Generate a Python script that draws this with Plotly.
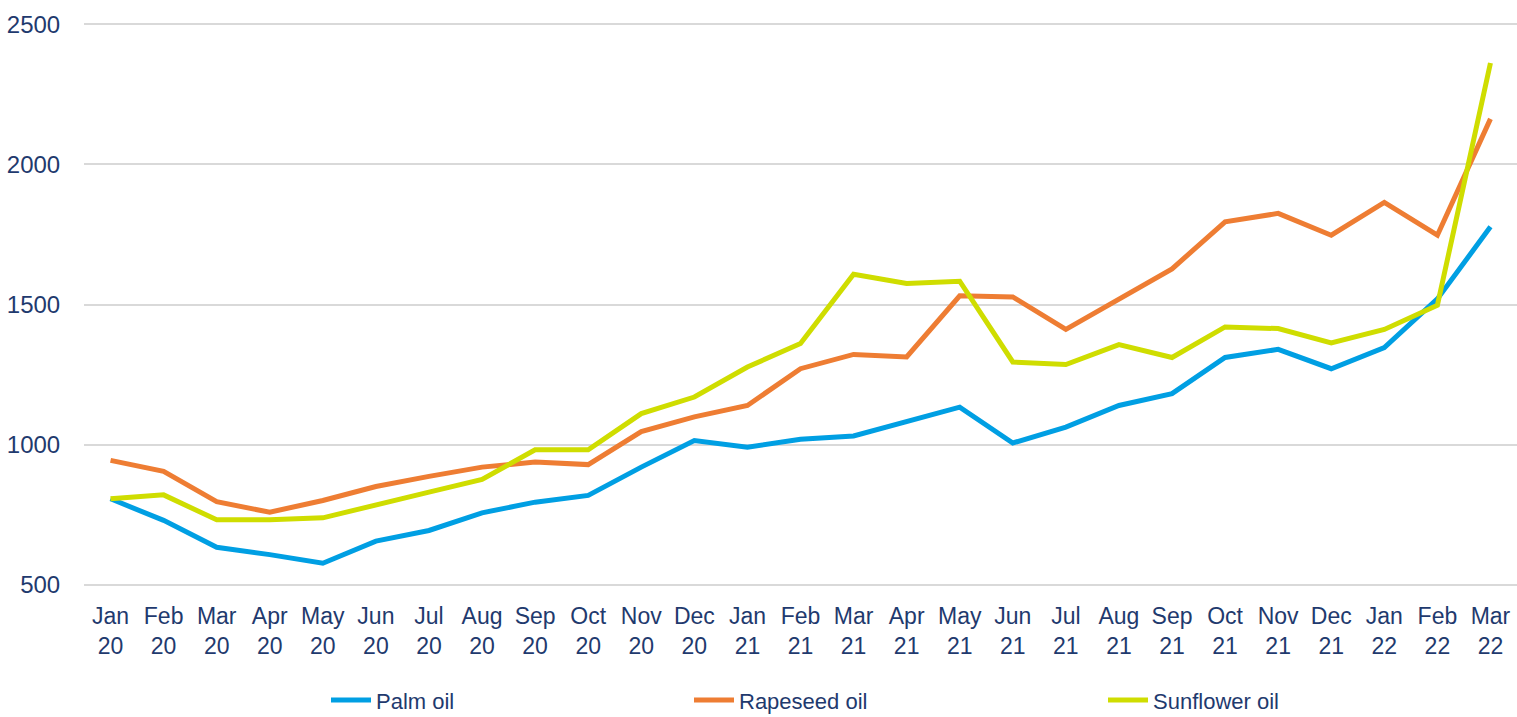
import plotly.graph_objects as go

months = ["Jan", "Feb", "Mar", "Apr", "May", "Jun", "Jul", "Aug", "Sep", "Oct", "Nov", "Dec"]
categories = [f"{months[i % 12]}<br>{20 + i // 12}" for i in range(27)]

palm_oil = [807, 730, 634, 608, 577, 656, 694, 757, 795, 819, 920, 1015, 991, 1019, 1031,
            1081, 1134, 1006, 1063, 1140, 1182, 1311, 1340, 1271, 1346, 1520, 1777]
rapeseed_oil = [944, 905, 797, 759, 801, 851, 887, 920, 938, 929, 1047, 1099, 1140, 1271, 1322,
                1313, 1531, 1527, 1411, 1520, 1627, 1795, 1825, 1747, 1864, 1747, 2162]
sunflower_oil = [807, 821, 732, 732, 739, 787, 831, 876, 982, 982, 1111, 1170, 1277, 1361, 1608,
                 1575, 1583, 1295, 1286, 1357, 1311, 1420, 1414, 1363, 1411, 1497, 2361]
y_ticks = [500, 1000, 1500, 2000, 2500]

series = [
    ("Palm oil", palm_oil, "#009FE3", "legend"),
    ("Rapeseed oil", rapeseed_oil, "#EE7D33", "legend2"),
    ("Sunflower oil", sunflower_oil, "#CFDD00", "legend3"),
]

text_color = "#1F3A6E"
font_family = "Liberation Sans, Arial, sans-serif"

fig = go.Figure()
for name, vals, color, lg in series:
    fig.add_trace(go.Scatter(
        x=categories, y=vals, name=name, mode="lines",
        line=dict(color=color, width=5), legend=lg,
    ))

W, H = 1517, 717
left, right, top, bottom = 84, 0, 23, 131


def legend_at(px):
    return dict(
        x=(px - left) / (W - left - right), y=-0.203, xanchor="left", yanchor="middle",
        orientation="h", font=dict(size=22, color=text_color, family=font_family),
        bgcolor="rgba(0,0,0,0)", itemwidth=40,
    )


fig.update_layout(
    width=W, height=H,
    margin=dict(l=left, r=right, t=top, b=bottom, autoexpand=False),
    paper_bgcolor="white", plot_bgcolor="white",
    font=dict(family=font_family, size=23, color=text_color),
    showlegend=True,
    legend=legend_at(326),
    legend2=legend_at(689),
    legend3=legend_at(1103),
    xaxis=dict(
        type="category", range=[-0.5, 26.5], showgrid=False, showline=False,
        automargin=False,
        ticks="outside", ticklen=9, tickcolor="rgba(0,0,0,0)",
        tickfont=dict(size=23, color=text_color),
    ),
    yaxis=dict(
        range=[496, 2504], tickvals=y_ticks,
        showgrid=True, gridcolor="#D9D9D9", gridwidth=1.5,
        zeroline=False, showline=False, automargin=False,
        ticks="outside", ticklen=18, tickcolor="rgba(0,0,0,0)",
        tickfont=dict(size=24, color=text_color),
    ),
)

fig.write_html("out.html", config={"displayModeBar": False},
               post_script="document.body.style.margin='0';")
